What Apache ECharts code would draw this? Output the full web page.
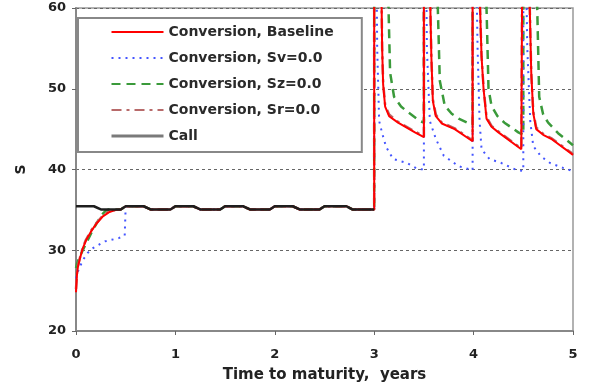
<!DOCTYPE html>
<html><head><meta charset="utf-8">
<script src="https://cdn.jsdelivr.net/npm/echarts@6/dist/echarts.min.js"></script>
<style>html,body{margin:0;padding:0;background:#fff}#c{width:597px;height:389px}</style>
</head><body><div id="c"></div>
<script>
var seriesNames = ['Conversion, Baseline','Conversion, Sv=0.0','Conversion, Sz=0.0','Conversion, Sr=0.0','Call'];
var xTicks = [0,1,2,3,4,5];
var yTicks = [20,30,40,50,60];

var callData = [[0,35.45],[0.18,35.45],[0.25,35.05],[0.45,35.05],[0.5,35.45],[0.68,35.45],[0.75,35.05],[0.95,35.05],[1.0,35.45],[1.18,35.45],[1.25,35.05],[1.45,35.05],[1.5,35.45],[1.68,35.45],[1.75,35.05],[1.95,35.05],[2.0,35.45],[2.18,35.45],[2.25,35.05],[2.45,35.05],[2.5,35.45],[2.72,35.45],[2.78,35.05],[3.0,35.05]];

var baseData = [[0,24.8],[0.01,27],[0.02,28],[0.04,29],[0.07,30.3],[0.1,31.2],[0.15,32.3],[0.2,33.2],[0.27,34.2],[0.33,34.7],[0.4,35.0],[0.45,35.05],[0.5,35.45],[0.68,35.45],[0.75,35.05],[0.95,35.05],[1.0,35.45],[1.18,35.45],[1.25,35.05],[1.45,35.05],[1.5,35.45],[1.68,35.45],[1.75,35.05],[1.95,35.05],[2.0,35.45],[2.18,35.45],[2.25,35.05],[2.45,35.05],[2.5,35.45],[2.72,35.45],[2.78,35.05],[3.0,35.05],
[3.0,90],[3.05,75],[3.075,60],[3.08,55],[3.09,50.5],[3.11,47.8],[3.15,46.6],[3.24,45.8],[3.41,44.6],[3.5,44.0],
[3.5,90],[3.54,75],[3.565,60],[3.575,54],[3.59,48.5],[3.62,46.6],[3.68,45.7],[3.81,45.0],[3.99,43.5],
[3.99,90],[4.04,75],[4.065,60],[4.08,54],[4.1,50],[4.13,46.3],[4.18,45.3],[4.25,44.6],[4.48,42.5],[4.5,42.4],
[4.5,90],[4.54,75],[4.565,60],[4.58,52],[4.6,47],[4.63,45],[4.7,44.3],[4.78,43.8],[4.98,42],[5,41.8]];

var svData = [[0,26.5],[0.02,27.4],[0.07,28.8],[0.12,29.7],[0.175,30.3],[0.29,31.1],[0.43,31.5],[0.49,31.8],[0.5,35.45],[0.68,35.45],[0.75,35.05],[0.95,35.05],[1.0,35.45],[1.18,35.45],[1.25,35.05],[1.45,35.05],[1.5,35.45],[1.68,35.45],[1.75,35.05],[1.95,35.05],[2.0,35.45],[2.18,35.45],[2.25,35.05],[2.45,35.05],[2.5,35.45],[2.72,35.45],[2.78,35.05],[3.0,35.05],
[3.0,90],[3.02,70],[3.03,55],[3.05,46],[3.08,44.5],[3.12,42.8],[3.19,41.3],[3.33,40.8],[3.43,40.1],[3.5,40.0],
[3.5,90],[3.52,70],[3.53,55],[3.56,46],[3.62,43.8],[3.7,41.7],[3.85,40.4],[3.99,39.9],
[3.99,90],[4.02,70],[4.04,55],[4.06,46],[4.08,42.5],[4.16,41.3],[4.28,40.8],[4.42,40.0],[4.5,39.8],
[4.5,90],[4.52,70],[4.54,55],[4.57,46],[4.6,42.9],[4.68,41.6],[4.77,40.8],[4.9,40.2],[5,39.8]];

var szData = [[0,27.8],[0.01,28.3],[0.03,29],[0.06,29.8],[0.1,30.8],[0.16,32.3],[0.21,33.4],[0.26,34.4],[0.3,34.9],[0.33,35.05],[0.45,35.05],[0.5,35.45],[0.68,35.45],[0.75,35.05],[0.95,35.05],[1.0,35.45],[1.18,35.45],[1.25,35.05],[1.45,35.05],[1.5,35.45],[1.68,35.45],[1.75,35.05],[1.95,35.05],[2.0,35.45],[2.18,35.45],[2.25,35.05],[2.45,35.05],[2.5,35.45],[2.72,35.45],[2.78,35.05],[3.0,35.05],
[3.0,90],[3.1,80],[3.14,62],[3.16,52],[3.2,49],[3.27,47.8],[3.34,47.1],[3.46,46.0],[3.5,45.8],
[3.5,90],[3.6,80],[3.64,60],[3.66,51],[3.71,47.9],[3.78,46.9],[3.85,46.3],[3.99,45.5],
[3.99,90],[4.1,80],[4.13,60],[4.15,50],[4.18,47.9],[4.24,46.6],[4.31,45.8],[4.45,44.6],[4.5,44.3],
[4.5,90],[4.6,80],[4.64,60],[4.66,49],[4.7,46.8],[4.75,45.8],[4.85,44.5],[4.92,43.8],[5,43.0]];

var srData = [[0,25.2],[0.01,27.2],[0.02,28.1],[0.04,29.1],[0.07,30.4],[0.1,31.3],[0.15,32.4],[0.2,33.3],[0.27,34.3],[0.33,34.8],[0.4,35.0],[0.45,35.05],[0.5,35.45],[0.68,35.45],[0.75,35.05],[0.95,35.05],[1.0,35.45],[1.18,35.45],[1.25,35.05],[1.45,35.05],[1.5,35.45],[1.68,35.45],[1.75,35.05],[1.95,35.05],[2.0,35.45],[2.18,35.45],[2.25,35.05],[2.45,35.05],[2.5,35.45],[2.72,35.45],[2.78,35.05],[3.0,35.05],
[3.0,90],[3.05,75],[3.075,60],[3.08,55],[3.09,50.8],[3.11,48.0],[3.15,46.8],[3.24,45.9],[3.41,44.7],[3.5,44.1],
[3.5,90],[3.54,75],[3.565,60],[3.575,54],[3.59,48.7],[3.62,46.8],[3.68,45.8],[3.81,45.1],[3.99,43.6],
[3.99,90],[4.04,75],[4.065,60],[4.08,54],[4.1,50.2],[4.13,46.5],[4.18,45.4],[4.25,44.7],[4.48,42.6],[4.5,42.5],
[4.5,90],[4.54,75],[4.565,60],[4.58,52],[4.6,47.2],[4.63,45.2],[4.7,44.4],[4.78,43.9],[4.98,42.1],[5,41.9]];

var FONT = 'DejaVu Sans';
var chart = echarts.init(document.getElementById('c'), null, {renderer:'canvas'});
function mk(name, data, color, width, type, z){
  return {name:name, type:'line', data:data, showSymbol:false, symbol:'none', z:z, clip:true,
    lineStyle:{color:color, width:width, type:type}, itemStyle:{color:color}, animation:false};
}
var legendData = seriesNames.map(function(n, i){
  var o = {name:n};
  if (i === 4) o.lineStyle = {color:'#7a7a7a', width:3};
  return o;
});
chart.setOption({
  animation:false,
  textStyle:{fontFamily:FONT},
  grid:{left:76, right:24, top:8, bottom:58, show:true, borderColor:'#999', borderWidth:1.5, backgroundColor:'transparent'},
  legend:{
    data:legendData, orient:'vertical', left:78, top:18,
    padding:[7,28,9,32], itemGap:12, itemWidth:52, itemHeight:14,
    backgroundColor:'#fff', borderColor:'#888', borderWidth:2,
    itemStyle:{opacity:0},
    textStyle:{fontFamily:FONT, fontSize:14, fontWeight:'bold', color:'#2a2a2a'}
  },
  xAxis:{type:'value', min:xTicks[0], max:xTicks[xTicks.length-1], interval:1,
    name:'Time to maturity,  years', nameLocation:'middle', nameGap:37,
    nameTextStyle:{fontFamily:FONT, fontSize:15, fontWeight:'bold', color:'#222'},
    axisLine:{lineStyle:{color:'#888', width:2}}, axisTick:{show:true, inside:false, length:4, lineStyle:{color:'#666'}},
    axisLabel:{fontFamily:FONT, fontSize:13, fontWeight:'bold', color:'#222', margin:17},
    splitLine:{show:false}},
  yAxis:{type:'value', min:yTicks[0], max:yTicks[yTicks.length-1], interval:10,
    name:'S', nameLocation:'middle', nameGap:48, nameRotate:90,
    nameTextStyle:{fontFamily:FONT, fontSize:14, fontWeight:'bold', color:'#222'},
    axisLine:{show:true, lineStyle:{color:'#888', width:2}}, axisTick:{show:true, length:4, lineStyle:{color:'#666'}},
    axisLabel:{fontFamily:FONT, fontSize:13, fontWeight:'bold', color:'#222', margin:10},
    splitLine:{show:true, lineStyle:{color:'#666', width:1, type:[3,3]}}},
  series:[
    mk(seriesNames[0], baseData, '#ff0000', 2, 'solid', 5),
    mk(seriesNames[1], svData, '#4455ff', 2, [2,5], 3),
    mk(seriesNames[2], szData, '#3a9a3a', 2.5, [9,6], 2),
    mk(seriesNames[3], srData, '#b86a6a', 2.5, [10,5,3,5], 4),
    mk(seriesNames[4], callData, '#1e1e1e', 2.5, 'solid', 6)
  ]
});
</script></body></html>
